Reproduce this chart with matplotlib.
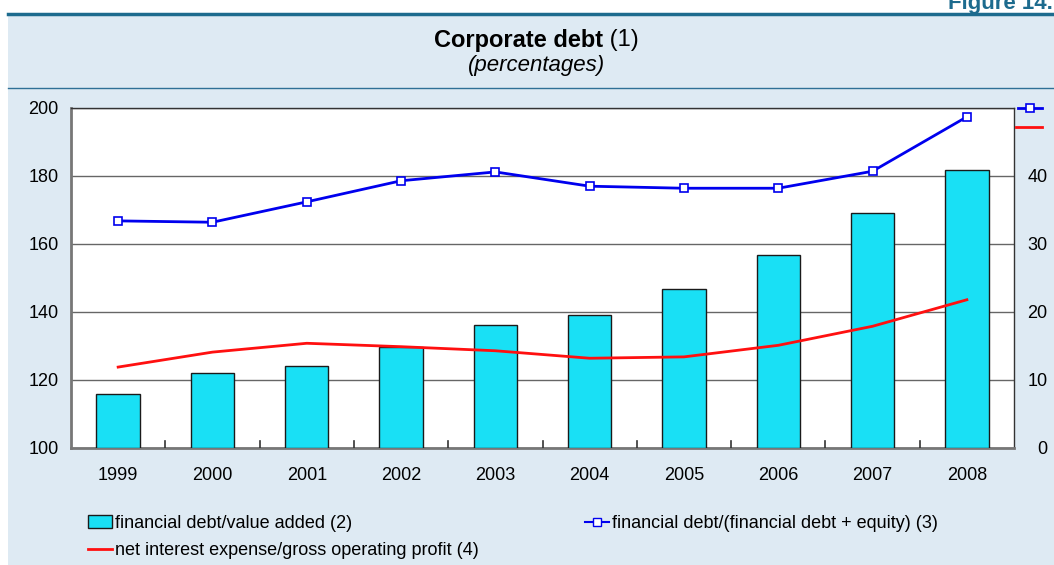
import numpy as np
import matplotlib
matplotlib.use("Agg")
import matplotlib.pyplot as plt
from matplotlib.lines import Line2D
from matplotlib.patches import Rectangle, Patch

plt.rcParams['font.family'] = ['Liberation Sans', 'DejaVu Sans']

years = ['1999', '2000', '2001', '2002', '2003', '2004', '2005', '2006', '2007', '2008']
debt_value_added = [115.9, 122.0, 124.1, 129.8, 136.3, 139.1, 146.8, 156.8, 169.2, 181.8]   # left axis
debt_share = [33.4, 33.2, 36.2, 39.3, 40.6, 38.5, 38.2, 38.2, 40.7, 48.7]                  # right axis
interest_ratio = [11.9, 14.1, 15.4, 14.9, 14.3, 13.2, 13.4, 15.1, 17.9, 21.8]               # right axis

left_ticks = [100, 120, 140, 160, 180, 200]
right_ticks = [0, 10, 20, 30, 40]

panel = '#deeaf3'
teal = '#1d6b8e'
cyan = '#19e0f5'
blue = '#0000ee'
red = '#ff1010'
grid_col = '#666666'

W, H = 1054, 565
fig = plt.figure(figsize=(W / 100, H / 100), dpi=100)
fig.patch.set_facecolor('white')

# background panel and rules
fig.patches.append(Rectangle((8 / W, 0), 1 - 8 / W, 1 - 15 / H, transform=fig.transFigure,
                             facecolor=panel, edgecolor='none', zorder=-5))
fig.add_artist(Line2D([8 / W, 1], [1 - 14 / H] * 2, color=teal, lw=2.5, zorder=-4))
fig.add_artist(Line2D([8 / W, 1], [1 - 88 / H] * 2, color='#2f7096', lw=1.0, zorder=-4))
fig.text(1 - 1 / W, 1 - 9 / H, 'Figure 14.', ha='right', va='baseline', fontsize=16,
         fontweight='bold', color=teal)

split = 603 / W
fig.text(split, 1 - 40 / H, 'Corporate debt', ha='right', va='center', fontsize=17,
         fontweight='bold')
fig.text(split, 1 - 40 / H, ' (1)', ha='left', va='center', fontsize=17)
fig.text(537 / W, 1 - 66 / H, '(percentages)', ha='center', va='center', fontsize=16,
         style='italic')

ax = fig.add_axes([71 / W, 117 / H, 943 / W, 340 / H])
ax.set_facecolor('white')
x = np.arange(len(years))

ax.bar(x, [v - 100 for v in debt_value_added], bottom=100, width=0.46, color=cyan,
       edgecolor='#1a1a1a', linewidth=1.0, zorder=3)
ax.set_xlim(-0.5, len(years) - 0.5)
ax.set_ylim(100, 200)
ax.set_yticks(left_ticks)
ax.set_xticks(x)
ax.set_xticklabels(years)
ax.tick_params(axis='x', length=0, pad=14, labelsize=13)
ax.tick_params(axis='y', length=0, pad=9, labelsize=13)
for b in np.arange(0.5, len(years) - 0.5, 1.0):
    ax.plot([b, b], [100, 102], color='#333333', lw=1.2, zorder=4)
ax.grid(axis='y', color=grid_col, lw=1.0, zorder=1)
ax.set_axisbelow(True)
for side in ['left', 'bottom']:
    ax.spines[side].set_color('#777777')
    ax.spines[side].set_linewidth(2.0)
for side in ['top', 'right']:
    ax.spines[side].set_color('#333333')
    ax.spines[side].set_linewidth(1.0)

ax2 = ax.twinx()
ax2.set_ylim(0, 50)
ax2.set_yticks(right_ticks)
ax2.tick_params(axis='y', length=0, pad=24, labelsize=13)
for lbl in ax2.get_yticklabels():
    lbl.set_horizontalalignment('right')
for s in ax2.spines.values():
    s.set_visible(False)
ax2.plot(x, debt_share, color=blue, lw=2.0, marker='s', markersize=6,
         markerfacecolor='white', markeredgecolor=blue, markeredgewidth=1.2, zorder=5)
ax2.plot(x, interest_ratio, color=red, lw=2.0, zorder=5)

# series keys beside the right axis
fig.add_artist(Line2D([1018 / W, 1042 / W], [1 - 108 / H] * 2, color=blue, lw=2.0))
fig.add_artist(Line2D([1030 / W], [1 - 108 / H], color=blue, marker='s', markersize=6,
                      markerfacecolor='white', markeredgecolor=blue, markeredgewidth=1.2))
fig.add_artist(Line2D([1016 / W, 1042 / W], [1 - 127 / H] * 2, color=red, lw=2.0))

handles = [Patch(facecolor=cyan, edgecolor='#1a1a1a', label='financial debt/value added (2)'),
           Line2D([], [], color=blue, lw=1.5, marker='s', markersize=5.5,
                  markerfacecolor='white', markeredgecolor=blue,
                  label='financial debt/(financial debt + equity) (3)'),
           Line2D([], [], color=red, lw=2.0,
                  label='net interest expense/gross operating profit (4)')]
fig.legend(handles=handles[:1] + handles[2:], loc='upper left',
           bbox_to_anchor=(88 / W, 1 - 515 / H), frameon=False, fontsize=13,
           handlelength=1.33, handletextpad=0.15, labelspacing=0.55, borderpad=0,
           borderaxespad=0)
fig.legend(handles=[handles[1]], loc='upper left',
           bbox_to_anchor=(585 / W, 1 - 515 / H), frameon=False, fontsize=13,
           handlelength=1.33, handletextpad=0.15, borderpad=0, borderaxespad=0)

fig.savefig('out.png', dpi=100)
